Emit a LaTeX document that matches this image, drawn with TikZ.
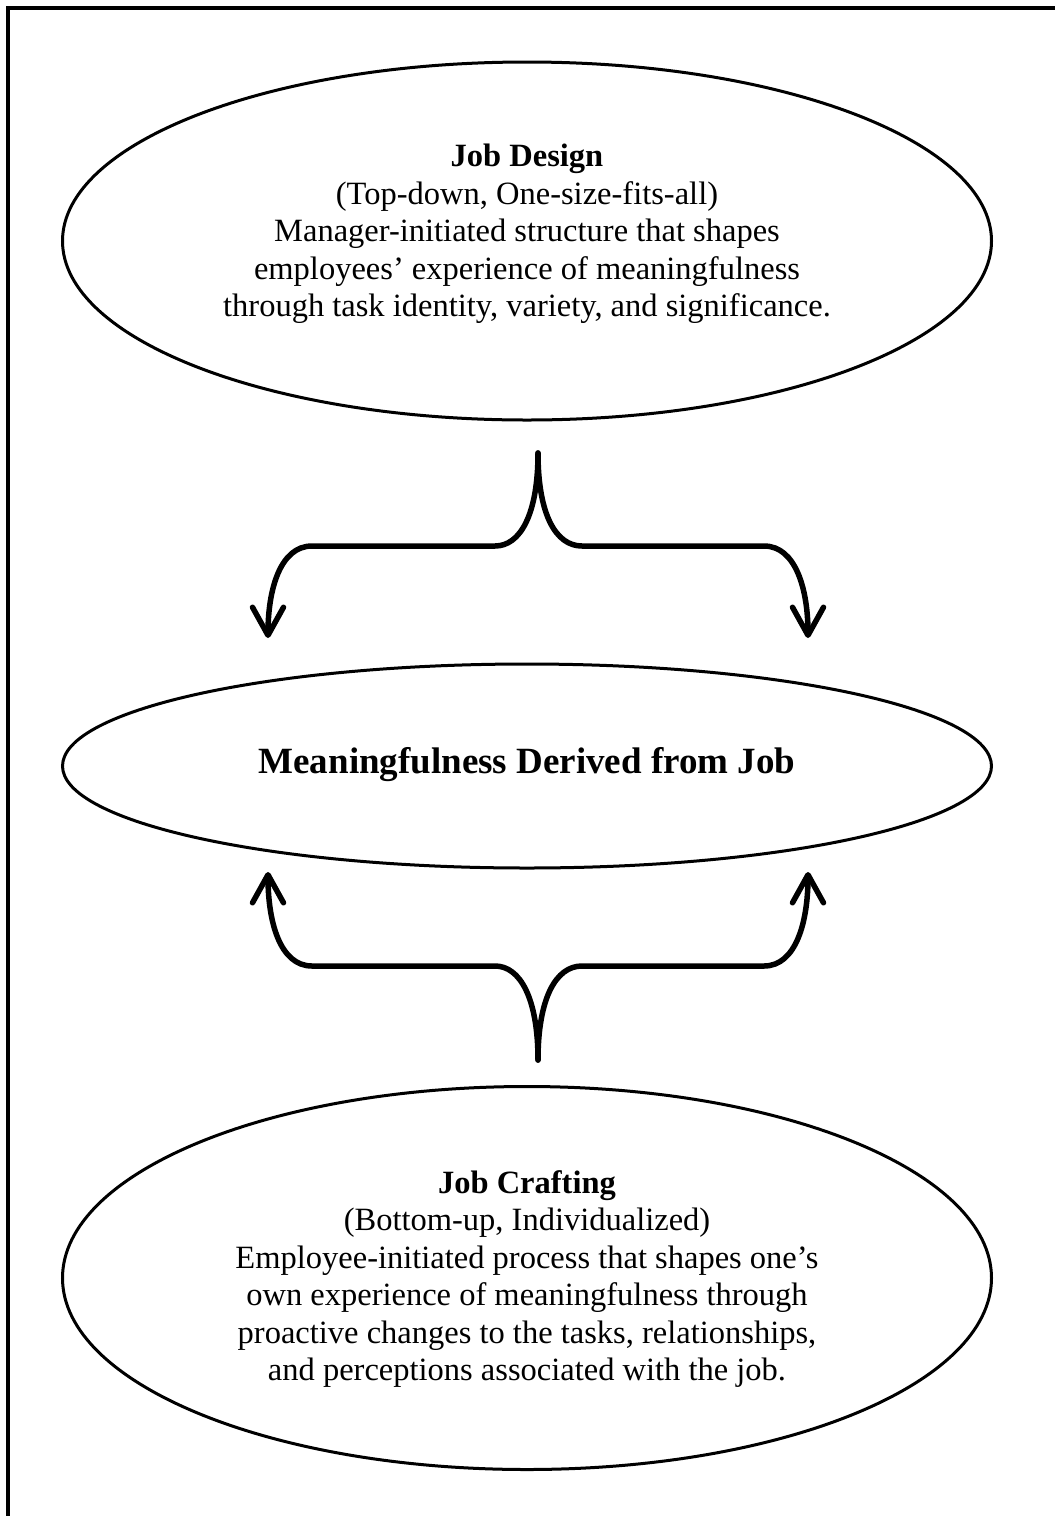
\documentclass[tikz,border=0pt]{standalone}
\usepackage{fontspec}
\setmainfont{Liberation Serif}
\usetikzlibrary{shapes.geometric,arrows.meta}
\begin{document}
\begin{tikzpicture}[x=1pt,y=-1pt,
  oval/.style={draw, ellipse, line width=3pt, inner sep=0pt},
  body/.style={align=center, font=\fontsize{32.5}{37.5}\selectfont, inner sep=0pt},
  brace/.style={line width=5.5pt, line cap=round, line join=round},
  tip/.style={-{Straight Barb[length=28pt,width=31pt,round]}}]
\useasboundingbox (0,0) rectangle (1055,1516);
\draw[line width=4pt] (1055,8) -- (8,8) -- (8,1516);
% ellipses
\node[oval, minimum width=929pt, minimum height=358pt] (jd) at (527,241) {};
\node[oval, minimum width=929pt, minimum height=204pt] (mean) at (527,766) {};
\node[oval, minimum width=929pt, minimum height=383pt] (jc) at (527,1278) {};
% texts
\node[body] (jdtxt) at (527,234) {\textbf{Job Design}\\(Top-down, One-size-fits-all)\\Manager-initiated structure that shapes\\employees’ experience of meaningfulness\\through task identity, variety, and significance.};
\node[inner sep=0pt, font=\fontsize{37}{41}\selectfont\bfseries] (meantxt) at (527,765) {Meaningfulness Derived from Job};
\node[body] (jctxt) at (527,1279) {\textbf{Job Crafting}\\(Bottom-up, Individualized)\\Employee-initiated process that shapes one’s\\own experience of meaningfulness through\\proactive changes to the tasks, relationships,\\and perceptions associated with the job.};
% connector end points
\coordinate (ts) at (538,453);
\coordinate (tl) at (268,638);
\coordinate (tr) at (808,638);
\coordinate (bs) at (538,1060);
\coordinate (bl) at (268,872);
\coordinate (br) at (808,872);
% top brace
\draw[brace, tip] (ts) .. controls (538,515) and (520,546) .. (495,546) -- (312,546)
   .. controls (280,546) and (268,590) .. (tl);
\draw[brace, tip] (ts) .. controls (538,515) and (556,546) .. (582,546) -- (764,546)
   .. controls (796,546) and (808,590) .. (tr);
% bottom brace
\draw[brace, tip] (bs) .. controls (538,998) and (520,966) .. (495,966) -- (312,966)
   .. controls (280,966) and (268,922) .. (bl);
\draw[brace, tip] (bs) .. controls (538,998) and (556,966) .. (582,966) -- (764,966)
   .. controls (796,966) and (808,922) .. (br);
\end{tikzpicture}
\end{document}
